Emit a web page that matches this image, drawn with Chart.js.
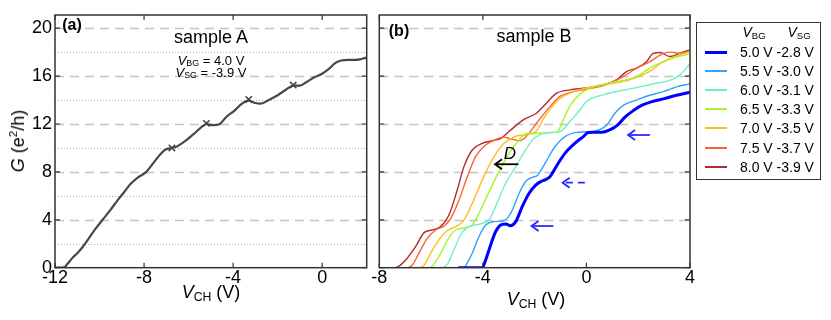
<!DOCTYPE html>
<html><head><meta charset="utf-8">
<script src="https://cdn.jsdelivr.net/npm/chart.js@4.4.1/dist/chart.umd.min.js"></script>
<style>
body{margin:0;width:831px;height:320px;background:#fff;position:relative;overflow:hidden;font-family:"Liberation Sans",Arial,sans-serif;}
canvas{position:absolute;top:0;}
.t{position:absolute;white-space:nowrap;color:#000;line-height:1;transform:translate(-50%,-50%);}
.t sub{font-size:0.68em;vertical-align:-0.2em;font-style:normal;}
#legend{position:absolute;left:696px;top:22px;width:125px;height:158px;border:1.5px solid #333;box-sizing:border-box;}
.lrow{position:absolute;left:0;width:120px;height:16px;}
.lline{position:absolute;left:8px;width:22px;}
.ltxt{position:absolute;left:43px;top:0;font-size:14px;line-height:16px;white-space:nowrap;}
</style></head><body>
<canvas id="ca" width="375" height="320" style="left:0"></canvas>
<canvas id="cb" width="335" height="320" style="left:365px"></canvas>

<div class="t" style="left:72px;top:25px;font-weight:bold;font-size:16px">(a)</div>
<div class="t" style="left:211px;top:37px;font-size:18px">sample A</div>
<div class="t" style="left:211px;top:61px;font-size:13px"><i>V</i><sub>BG</sub> = 4.0 V</div>
<div class="t" style="left:211px;top:73px;font-size:13px"><i>V</i><sub>SG</sub> = -3.9 V</div>
<div class="t" style="left:17px;top:141px;font-size:18px;transform:translate(-50%,-50%) rotate(-90deg)"><i>G</i> (e<sup style="font-size:0.65em">2</sup>/h)</div>
<div class="t" style="left:211px;top:293px;font-size:18px"><i>V</i><sub>CH</sub> (V)</div>

<div class="t" style="left:399px;top:31px;font-weight:bold;font-size:16px">(b)</div>
<div class="t" style="left:534px;top:36px;font-size:18px">sample B</div>
<div class="t" style="left:510px;top:153px;font-size:17px;font-style:italic">D</div>
<div class="t" style="left:536px;top:300px;font-size:18px"><i>V</i><sub>CH</sub> (V)</div>

<div id="legend"></div>

<script>
// ---------- data ----------
const xTicksA = [-12, -8, -4, 0];
const xTicksB = [-8, -4, 0, 4];
const yTicks = [0, 4, 8, 12, 16, 20];
const yMinorA = [2, 6, 10, 14, 18];

// sample A (V_BG = 4.0 V, V_SG = -3.9 V)
const vchA = [-12, -11.6, -11.45, -11.2, -11.0, -10.75, -10.5, -10.2, -9.86, -9.5, -9.2, -8.9, -8.6, -8.3, -7.9, -7.6, -7.3, -7.05, -6.75, -6.5, -6.1, -5.75, -5.45, -5.2, -4.9, -4.6, -4.3, -3.95, -3.6, -3.3, -3.0, -2.75, -2.4, -2.0, -1.6, -1.3, -1.0, -0.7, -0.35, 0.0, 0.3, 0.6, 0.85, 1.2, 1.5, 1.8, 2.0];
const gA   = [0, 0.02, 0.3, 0.85, 1.2, 1.75, 2.4, 3.2, 4.0, 4.85, 5.6, 6.3, 7.0, 7.5, 8.0, 8.7, 9.4, 9.85, 10.0, 10.15, 10.65, 11.2, 11.7, 12.0, 11.9, 12.0, 12.6, 13.1, 13.7, 13.95, 13.75, 13.7, 14.0, 14.4, 14.9, 15.2, 15.2, 15.5, 15.9, 16.2, 16.6, 17.1, 17.3, 17.35, 17.35, 17.45, 17.55];
const markVchA = [-6.75, -5.2, -3.3, -1.3];
const markGA   = [10.0, 12.05, 14.05, 15.25];

// sample B, one curve per (V_BG, V_SG)
const vbgLabels = ['5.0 V', '5.5 V', '6.0 V', '6.5 V', '7.0 V', '7.5 V', '8.0 V'];
const vsgLabels = ['-2.8 V', '-3.0 V', '-3.1 V', '-3.3 V', '-3.5 V', '-3.7 V', '-3.9 V'];

const vchB50 = [-4.95, -4.02, -3.9, -3.76, -3.51, -3.31, -3.12, -2.93, -2.73, -2.48, -2.22, -1.96, -1.75, -1.6, -1.41, -1.09, -0.83, -0.44, -0.12, 0.07, 0.3, 0.59, 0.9, 1.2, 1.5, 1.8, 2.13, 2.5, 2.97, 3.48, 4.0];
const gB50   = [0, 0, 0.6, 1.5, 3.0, 3.57, 3.65, 3.51, 3.85, 5.1, 6.2, 6.9, 7.2, 7.33, 7.6, 8.72, 9.55, 10.4, 10.95, 11.28, 11.3, 11.3, 11.5, 11.9, 12.6, 13.1, 13.55, 13.85, 14.1, 14.4, 14.65];

const vchB55 = [-5.6, -4.75, -4.6, -4.41, -4.15, -3.89, -3.57, -3.25, -3.06, -2.86, -2.6, -2.35, -2.09, -1.9, -1.6, -1.22, -0.83, -0.44, 0.0, 0.4, 0.78, 1.1, 1.45, 1.94, 2.45, 2.97, 3.48, 4.0];
const gB55   = [0, 0, 0.4, 1.2, 2.6, 3.57, 3.85, 3.9, 4.12, 4.82, 6.2, 7.2, 7.55, 7.7, 8.72, 10.1, 10.95, 11.28, 11.35, 11.45, 11.9, 12.9, 13.6, 14.0, 14.4, 14.7, 15.1, 15.35];

const vchB60 = [-6.3, -5.55, -5.37, -5.12, -4.86, -4.6, -4.28, -4.02, -3.76, -3.51, -3.12, -2.73, -2.35, -2.09, -1.8, -1.4, -1.02, -0.64, -0.25, 0.0, 0.65, 1.68, 2.71, 3.3, 3.61, 4.0];
const gB60   = [0, 0, 0.3, 1.48, 2.73, 3.37, 3.57, 3.7, 3.98, 5.1, 7.05, 8.44, 9.83, 10.67, 11.1, 11.3, 11.36, 12.2, 13.17, 13.87, 14.43, 14.93, 15.4, 15.7, 16.1, 17.0];

const vchB65 = [-7.0, -6.05, -5.89, -5.63, -5.37, -5.05, -4.66, -4.41, -4.15, -3.76, -3.38, -2.99, -2.6, -2.31, -1.8, -1.15, -0.9, -0.64, -0.12, 0.91, 1.94, 2.45, 2.97, 3.5, 3.97];
const gB65   = [0, 0, 0.3, 1.2, 2.31, 3.15, 3.34, 3.57, 4.54, 6.35, 8.02, 9.55, 10.67, 11.2, 11.25, 11.3, 12.3, 13.5, 14.7, 15.4, 15.96, 16.66, 17.2, 17.6, 17.83];

const vchB70 = [-8.0, -6.45, -6.27, -6.02, -5.7, -5.37, -5.05, -4.73, -4.41, -4.02, -3.64, -3.25, -2.99, -2.7, -2.3, -1.9, -1.67, -1.15, -0.64, 0.39, 1.42, 1.94, 2.45, 2.97, 3.5, 3.97];
const gB70   = [0, 0, 0.2, 1.2, 2.31, 3.1, 3.43, 3.98, 5.38, 7.33, 9.0, 10.25, 10.67, 11.0, 11.1, 11.5, 12.4, 13.87, 14.57, 15.2, 15.54, 15.9, 16.4, 17.2, 17.7, 18.0];

const vchB75 = [-8.0, -6.9, -6.73, -6.47, -6.15, -5.82, -5.5, -5.24, -4.92, -4.6, -4.28, -3.89, -3.51, -3.2, -2.9, -2.6, -2.35, -1.93, -1.41, -1.02, -0.51, 0.0, 0.65, 1.42, 1.94, 2.45, 2.97, 3.3, 3.6, 3.97];
const gB75   = [0, 0, 0.2, 1.2, 2.45, 3.15, 3.48, 4.12, 5.66, 7.6, 9.27, 10.25, 10.7, 10.9, 10.75, 10.6, 10.9, 12.06, 13.45, 14.3, 14.7, 14.9, 15.2, 15.96, 16.66, 17.2, 17.9, 18.0, 17.9, 18.1];

const vchB80 = [-7.7, -7.4, -7.2, -6.98, -6.6, -6.27, -5.95, -5.63, -5.31, -4.99, -4.73, -4.41, -4.02, -3.64, -3.3, -2.95, -2.44, -1.93, -1.67, -1.15, -0.64, 0.0, 0.65, 1.16, 1.55, 1.94, 2.32, 2.58, 2.84, 3.22, 3.61, 3.99];
const gB80   = [0, 0, 0.2, 0.64, 1.76, 2.93, 3.15, 3.43, 4.4, 6.49, 8.44, 9.83, 10.39, 10.6, 10.8, 11.45, 12.34, 12.9, 13.45, 14.57, 14.85, 15.0, 15.26, 15.68, 16.38, 16.66, 17.2, 17.9, 17.97, 17.63, 17.9, 18.19];

// annotation arrows in panel (b): tail V_CH, head V_CH, G
const arrowTail = [-2.63, 2.45, -0.06, -1.28];
const arrowHead = [-3.53, 1.61, -0.92, -2.12];
const arrowG    = [8.64, 11.08, 7.1, 3.48];

// ---------- styles ----------
const curveColors = ['#0000ff', '#2ea2ff', '#6ef0c6', '#a6f52a', '#ffbe1e', '#ff6030', '#b52a2a'];
const curveWidths = [3, 1.4, 1.4, 1.4, 1.4, 1.4, 1.4];
const arrowColors = ['#000000', '#2a2aff', '#2a2aff', '#2a2aff'];
const arrowDashed = [false, false, true, false];
const FONT = '"Liberation Sans", Arial, sans-serif';

const pts = (xs, ys) => xs.map((v, i) => ({x: v, y: ys[i]}));

function framePlugin(opt) {
  return {
    id: 'frame_' + opt.name,
    beforeDatasetsDraw(chart) {
      const {ctx, chartArea: a, scales: {y}} = chart;
      ctx.save();
      ctx.beginPath(); ctx.rect(a.left, a.top, a.right - a.left, a.bottom - a.top); ctx.clip();
      ctx.strokeStyle = '#c4c4c4'; ctx.lineWidth = 1.3; ctx.setLineDash([9, 6]);
      opt.dash.forEach(v => {
        const p = Math.round(y.getPixelForValue(v)) + 0.5;
        ctx.beginPath(); ctx.moveTo(a.left, p); ctx.lineTo(a.right, p); ctx.stroke();
      });
      ctx.strokeStyle = '#b0b0b0'; ctx.lineWidth = 1; ctx.setLineDash([1, 2]);
      opt.dot.forEach(v => {
        const p = Math.round(y.getPixelForValue(v)) + 0.5;
        ctx.beginPath(); ctx.moveTo(a.left, p); ctx.lineTo(a.right, p); ctx.stroke();
      });
      ctx.restore();
    },
    afterDatasetsDraw(chart) {
      const {ctx, chartArea: a, scales: {x, y}} = chart;
      ctx.save();
      if (opt.arrows) {
        arrowTail.forEach((t, i) => {
          const x0 = x.getPixelForValue(t), x1 = x.getPixelForValue(arrowHead[i]);
          const py = y.getPixelForValue(arrowG[i]);
          ctx.strokeStyle = arrowColors[i]; ctx.lineWidth = 1.8;
          ctx.setLineDash(arrowDashed[i] ? [7, 5] : []);
          ctx.beginPath(); ctx.moveTo(x0, py); ctx.lineTo(x1, py); ctx.stroke();
          ctx.setLineDash([]);
          ctx.beginPath(); ctx.moveTo(x1 + 7, py - 5); ctx.lineTo(x1, py); ctx.lineTo(x1 + 7, py + 5); ctx.stroke();
        });
      }
      ctx.strokeStyle = '#333'; ctx.lineWidth = 1.5; ctx.setLineDash([]);
      ctx.strokeRect(a.left, a.top, a.right - a.left, a.bottom - a.top);
      ctx.lineWidth = 1.2;
      opt.xt.forEach(v => {
        const p = x.getPixelForValue(v);
        ctx.beginPath(); ctx.moveTo(p, a.bottom); ctx.lineTo(p, a.bottom - 5);
        ctx.moveTo(p, a.top); ctx.lineTo(p, a.top + 5); ctx.stroke();
      });
      opt.dash.forEach(v => {
        const p = y.getPixelForValue(v);
        ctx.beginPath(); ctx.moveTo(a.left, p); ctx.lineTo(a.left + 5, p);
        ctx.moveTo(a.right, p); ctx.lineTo(a.right - 5, p); ctx.stroke();
      });
      ctx.restore();
    }
  };
}

const common = {
  responsive: false, animation: false, devicePixelRatio: 1,
  plugins: {legend: {display: false}, tooltip: {enabled: false}},
  elements: {point: {radius: 0}, line: {cubicInterpolationMode: 'monotone'}}
};

new Chart(document.getElementById('ca'), {
  type: 'line',
  data: {datasets: [
    {data: pts(markVchA, markGA), showLine: false, pointStyle: 'crossRot', pointRadius: 4.5, borderColor: '#444', borderWidth: 1.5},
    {data: pts(vchA, gA), borderColor: '#484848', borderWidth: 2.2, fill: false}
  ]},
  options: Object.assign({}, common, {
    layout: {padding: {top: 15, right: 8.3, left: 0, bottom: 0}},
    scales: {
      x: {type: 'linear', min: -12, max: 2, grid: {display: false, drawTicks: false}, border: {display: false},
          ticks: {color: '#000', font: {size: 18, family: FONT}, padding: 0, maxRotation: 0},
          afterBuildTicks: s => { s.ticks = xTicksA.map(v => ({value: v})); },
          afterFit: s => { s.height = 52.3; }},
      y: {type: 'linear', min: 0, max: 21.1, grid: {display: false, drawTicks: false}, border: {display: false},
          ticks: {color: '#000', font: {size: 18, family: FONT}, padding: 3},
          afterBuildTicks: s => { s.ticks = yTicks.map(v => ({value: v})); },
          afterFit: s => { s.width = 55; }}
    }
  }),
  plugins: [framePlugin({name: 'a', xt: xTicksA, dash: yTicks, dot: yMinorA, arrows: false})]
});

const seriesB = [[vchB50, gB50], [vchB55, gB55], [vchB60, gB60], [vchB65, gB65], [vchB70, gB70], [vchB75, gB75], [vchB80, gB80]];
new Chart(document.getElementById('cb'), {
  type: 'line',
  data: {datasets: seriesB.map((s, i) => ({
    label: vbgLabels[i], data: pts(s[0], s[1]), borderColor: curveColors[i], borderWidth: curveWidths[i], fill: false
  }))},
  options: Object.assign({}, common, {
    layout: {padding: {top: 15, right: 10, left: 14.3, bottom: 0}},
    scales: {
      x: {type: 'linear', min: -8, max: 4, grid: {display: false, drawTicks: false}, border: {display: false},
          ticks: {color: '#000', font: {size: 18, family: FONT}, padding: 0, maxRotation: 0},
          afterBuildTicks: s => { s.ticks = xTicksB.map(v => ({value: v})); },
          afterFit: s => { s.height = 52.3; }},
      y: {type: 'linear', min: 0, max: 21.1, display: false}
    }
  }),
  plugins: [framePlugin({name: 'b', xt: xTicksB, dash: yTicks, dot: [], arrows: true})]
});

// legend (HTML)
const lg = document.getElementById('legend');
let html = '<div class="t" style="left:57px;top:10px;font-size:14px"><i>V</i><sub>BG</sub></div>' +
           '<div class="t" style="left:102px;top:10px;font-size:14px"><i>V</i><sub>SG</sub></div>';
vbgLabels.forEach((l, i) => {
  const top = 21 + i * 19.1;
  const w = curveWidths[i] > 2 ? 3 : 2;
  html += `<div class="lrow" style="top:${top}px"><div class="lline" style="top:${8 - w / 2}px;height:${w}px;background:${curveColors[i]}"></div>` +
          `<div class="ltxt">${l} ${vsgLabels[i]}</div></div>`;
});
lg.innerHTML = html;
</script>
</body></html>
